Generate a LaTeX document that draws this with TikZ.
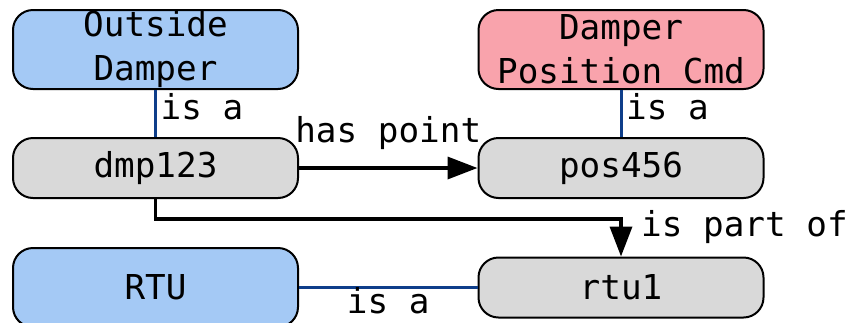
\documentclass[tikz,border=0pt]{standalone}
\usepackage{fontspec}
\setmonofont{DejaVu Sans Mono}
\usetikzlibrary{arrows.meta}

\definecolor{classblue}{RGB}{164,201,245}
\definecolor{pointpink}{RGB}{249,163,172}
\definecolor{entgray}{RGB}{217,217,217}
\definecolor{isablue}{RGB}{14,62,138}

\tikzset{
  box/.style={draw=black, line width=2pt, rounded corners=20pt,
    minimum width=285pt, inner sep=0pt, align=center,
    font=\ttfamily\fontsize{34.3}{44}\selectfont},
  classbox/.style={box, fill=classblue, minimum height=79pt},
  pointbox/.style={box, fill=pointpink, minimum height=79pt},
  entbox/.style={box, fill=entgray, minimum height=60pt},
  lbl/.style={inner sep=0pt, font=\ttfamily\fontsize{34.3}{44}\selectfont},
  isa/.style={draw=isablue, line width=3pt},
  rel/.style={draw=black, line width=3.5pt, -{Triangle[length=30pt,width=22pt]}}
}

\begin{document}
\begin{tikzpicture}[x=1pt, y=-1pt]
  \useasboundingbox (0,0) rectangle (853,322);
  \clip (0,0) rectangle (853,322);

  % nodes
  \node[classbox] (od)   at (155.5,49.5) {Outside\\Damper};
  \node[pointbox] (dpc)  at (621,49.5)   {Damper\\Position Cmd};
  \node[entbox]   (dmp)  at (155.5,168)  {dmp123};
  \node[entbox]   (pos)  at (621,168)    {pos456};
  \node[classbox] (rtu)  at (155.5,287.5){RTU};
  \node[entbox]   (rtu1) at (621,287.5)  {rtu1};

  % type links
  \draw[isa] (od.south) -- (dmp.north);
  \node[lbl, anchor=base west] at ([xshift=5pt,yshift=-29pt]od.south) {is a};
  \draw[isa] (dpc.south) -- (pos.north);
  \node[lbl, anchor=base west] at ([xshift=5pt,yshift=-29pt]dpc.south) {is a};
  \draw[isa] (rtu.east) -- (rtu1.west)
    node[lbl, midway, anchor=base, yshift=-26pt] {is a};

  % relations
  \draw[rel] (dmp.east) -- (pos.west)
    node[lbl, midway, anchor=base, yshift=26pt] {has point};
  \draw[rel] (dmp.south) -- ++(0,20) -| (rtu1.north);
  \node[lbl, anchor=base west] at ([xshift=20pt,yshift=20pt]rtu1.north) {is part of};
\end{tikzpicture}
\end{document}
